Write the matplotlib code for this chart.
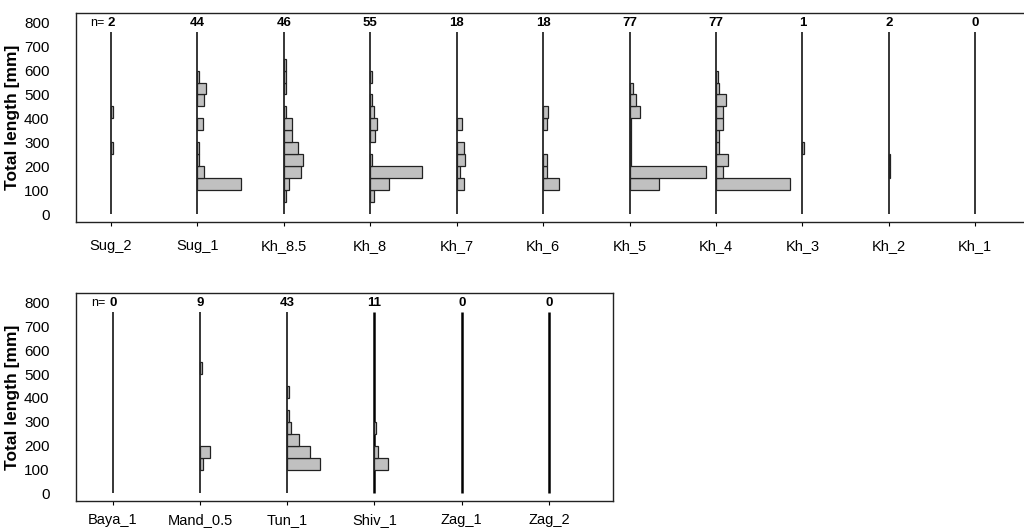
import matplotlib
matplotlib.use("Agg")
import matplotlib.pyplot as plt

plt.rcParams['font.family'] = ['Liberation Sans', 'DejaVu Sans']

# Bin lower edges (mm), bin width 50 mm
bin_edges = [0, 50, 100, 150, 200, 250, 300, 350, 400, 450, 500, 550, 600]
bin_width = 50

# ---- top panel ----
top_sites = ["Sug_2", "Sug_1", "Kh_8.5", "Kh_8", "Kh_7", "Kh_6", "Kh_5", "Kh_4", "Kh_3", "Kh_2", "Kh_1"]
top_n = [2, 44, 46, 55, 18, 18, 77, 77, 1, 2, 0]
#           0  50 100 150 200 250 300 350 400 450 500 550 600
sug_2  = [0, 0,  0,  0,  0,  1,  0,  0,  1,  0,  0,  0,  0]
sug_1  = [0, 0, 25,  4,  1,  1,  0,  3,  0,  4,  5,  1,  0]
kh_8_5 = [0, 1,  3, 10, 11,  8,  5,  5,  1,  0,  1,  1,  1]
kh_8   = [0, 2, 11, 30,  1,  0,  3,  4,  2,  1,  0,  1,  0]
kh_7   = [0, 0,  4,  2,  5,  4,  0,  3,  0,  0,  0,  0,  0]
kh_6   = [0, 0,  9,  2,  2,  0,  0,  2,  3,  0,  0,  0,  0]
kh_5   = [0, 0, 17, 44,  1,  1,  1,  1,  6,  4,  2,  0,  0]
kh_4   = [0, 0, 43,  4,  7,  2,  2,  4,  4,  6,  2,  1,  0]
kh_3   = [0, 0,  0,  0,  0,  1,  0,  0,  0,  0,  0,  0,  0]
kh_2   = [0, 0,  0,  1,  1,  0,  0,  0,  0,  0,  0,  0,  0]
kh_1   = [0, 0,  0,  0,  0,  0,  0,  0,  0,  0,  0,  0,  0]
top_counts = [sug_2, sug_1, kh_8_5, kh_8, kh_7, kh_6, kh_5, kh_4, kh_3, kh_2, kh_1]

# ---- bottom panel ----
bot_sites = ["Baya_1", "Mand_0.5", "Tun_1", "Shiv_1", "Zag_1", "Zag_2"]
bot_n = [0, 9, 43, 11, 0, 0]
baya_1   = [0, 0,  0,  0,  0,  0,  0,  0,  0,  0,  0,  0,  0]
mand_0_5 = [0, 0,  2,  6,  0,  0,  0,  0,  0,  0,  1,  0,  0]
tun_1    = [0, 0, 19, 13,  7,  2,  1,  0,  1,  0,  0,  0,  0]
shiv_1   = [0, 0,  8,  2,  0,  1,  0,  0,  0,  0,  0,  0,  0]
zag_1    = [0, 0,  0,  0,  0,  0,  0,  0,  0,  0,  0,  0,  0]
zag_2    = [0, 0,  0,  0,  0,  0,  0,  0,  0,  0,  0,  0,  0]
bot_counts = [baya_1, mand_0_5, tun_1, shiv_1, zag_1, zag_2]

yticks = [0, 100, 200, 300, 400, 500, 600, 700, 800]
line_top = 760
scale = 0.02  # x-units per fish

W, H = 1024, 531
fig = plt.figure(figsize=(W / 100, H / 100), dpi=100)

def px_axes(l, t, r, b):
    return fig.add_axes([l / W, 1 - b / H, (r - l) / W, (b - t) / H])

ax_top = px_axes(76, 13, 1040, 222)
ax_bot = px_axes(76, 293, 613, 501)

def draw(ax, sites, ns, counts, xlim, xpad, thick=()):
    pos = list(range(1, len(sites) + 1))
    for i, (p, c) in enumerate(zip(pos, counts)):
        lw = 1.8 if sites[i] in thick else 1.1
        ax.vlines(p, 0, line_top, color='black', lw=lw, zorder=2)
        ys = [b for b, v in zip(bin_edges, c) if v > 0]
        ws = [v * scale for v in c if v > 0]
        if ys:
            ax.barh(ys, ws, height=bin_width, left=p, align='edge',
                    color='#c0c0c0', edgecolor='#222222', linewidth=0.9, zorder=3)
        ax.text(p, 800, str(ns[i]), ha='center', va='center', fontsize=9.5,
                fontweight='bold')
    ax.text(pos[0] - 0.08, 800, "n=", ha='right', va='center', fontsize=9)
    ax.set_xlim(*xlim)
    ax.set_ylim(-32, 840)
    ax.set_xticks(pos)
    ax.set_xticklabels(sites, fontsize=10.5)
    ax.set_yticks(yticks)
    ax.set_yticklabels([str(v) for v in yticks], fontsize=11)
    ax.tick_params(axis='x', length=3, pad=xpad, direction='out')
    ax.tick_params(axis='y', length=0, pad=19)
    ax.set_ylabel("Total length [mm]", fontsize=12.5, fontweight='bold', labelpad=3)
    for s in ax.spines.values():
        s.set_linewidth(1.0)
        s.set_color('#222222')

draw(ax_top, top_sites, top_n, top_counts, (0.595, 11.75), 9)
draw(ax_bot, bot_sites, bot_n, bot_counts, (0.579, 6.734), 5.5,
     thick=("Shiv_1", "Zag_1", "Zag_2"))

fig.savefig("out.png", dpi=100)
